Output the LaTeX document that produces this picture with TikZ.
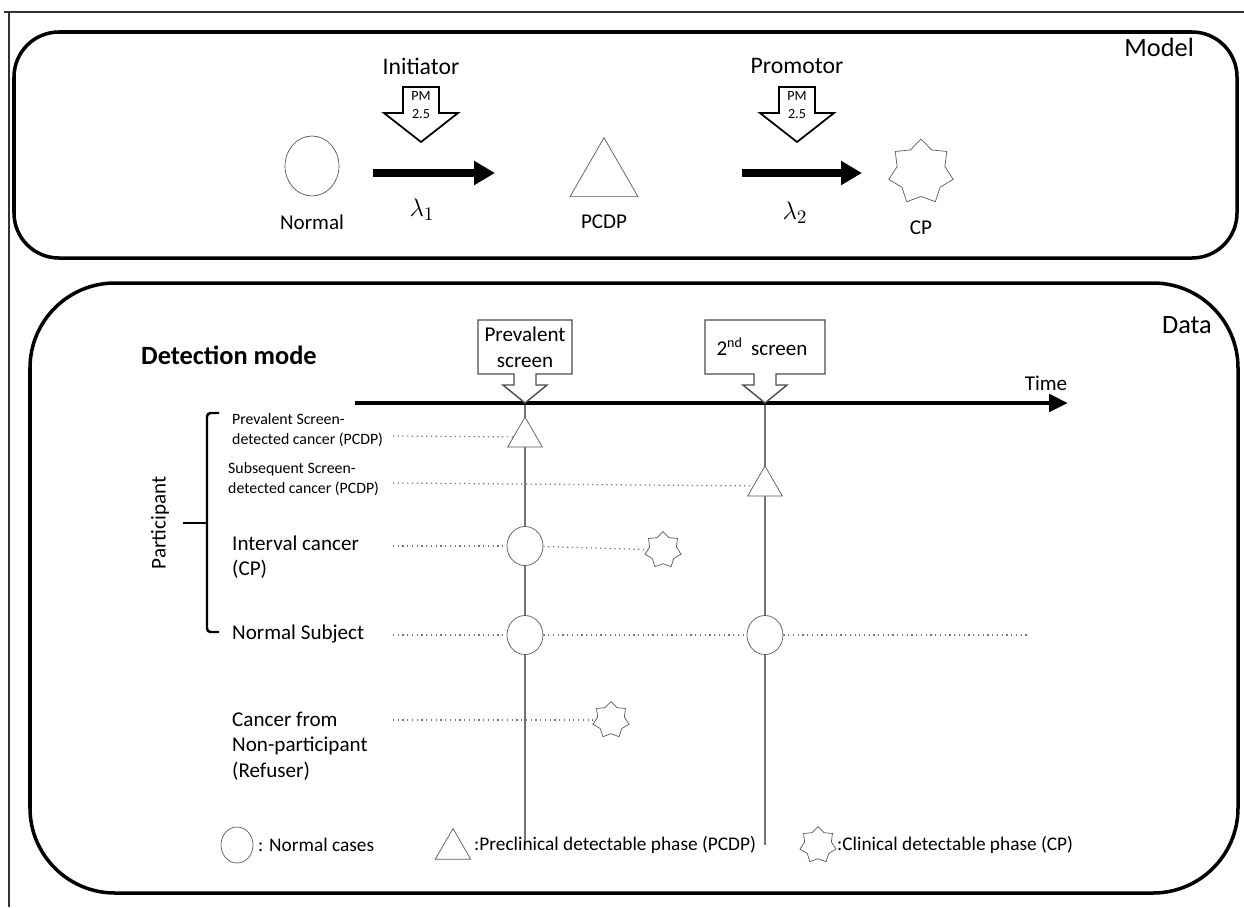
\documentclass[tikz,border=0pt]{standalone}
\usepackage{fontspec}
\setmainfont{Carlito}
\usepackage{tikz}
\usetikzlibrary{arrows.meta}
\usetikzlibrary{shapes,positioning,calc}

\tikzset{
	panel/.style={draw, line width=2pt, rounded corners=#1},
	normc/.style={draw=black!65, fill=white, ellipse, inner sep=0pt},
	pcdp/.style={draw=black!65, fill=white, regular polygon, regular polygon sides=3, inner sep=0pt},
	cpstar/.style={draw=black!65, fill=white, star, star points=7, star point ratio=1.35, inner sep=0pt},
	dotln/.style={draw=black!55, dotted, line width=0.7pt},
	vline/.style={draw=black!55, line width=0.8pt},
	fat/.style={line width=4pt, -{Triangle[length=0.42cm,width=0.46cm]}},
	lbl/.style={anchor=west, align=left},
	smalllbl/.style={anchor=west, align=left, font=\fontsize{9}{11.5}\selectfont},
	pmdrop/.pic={
		\draw[line width=1pt, fill=white] (-18,0) -- (18,0) -- (18,26) -- (37,26) -- (0,55) -- (-37,26) -- (-18,26) -- cycle;
		\node[font=\fontsize{8}{10.5}\selectfont, align=center] (-pm) at (0,18) {PM\\2.5};
	},
	scall/.pic={
		\draw[draw=black!70, line width=0.8pt, fill=white] (-#1,-29) -- (-11,-29) -- (-11,-18) -- (-22,-18) -- (0,0) -- (22,-18) -- (11,-18) -- (11,-29) -- (#1,-29) -- (#1,-83) -- (-#1,-83) -- cycle;
	},
}

\begin{document}
\begin{tikzpicture}[x=0.02cm, y=-0.02cm, every node/.style={font=\fontsize{12}{14.5}\selectfont}]
	\useasboundingbox (0,0) rectangle (1244,907);
	% frame
	\draw[line width=0.8pt, black!80] (4,12) -- (1244,12);
	\draw[line width=0.8pt, black!80] (9,12) -- (9,907);

	% ---- model ----
	\draw[panel=0.9cm] (14,32) rectangle (1237,258);
	\node[anchor=east, font=\fontsize{15}{17}\selectfont] (modeltxt) at (1200,47) {Model};

	\node[normc, minimum width=1.08cm, minimum height=1.2cm] (normal) at (312,166) {};
	\node (normaltxt) at (312,222) {Normal};
	\node[pcdp, minimum size=1.57cm] (pcdpm) at (604,177) {};
	\node (pcdptxt) at (604,222) {PCDP};
	\node[cpstar, minimum size=1.32cm] (cpm) at (921,172) {};
	\node (cptxt) at (921,228) {CP};

	\coordinate (a1s) at (373,173);
	\coordinate (a1e) at (495,173);
	\coordinate (a2s) at (742,173);
	\coordinate (a2e) at (862,173);
	\draw[fat] (a1s) -- (a1e);
	\draw[fat] (a2s) -- (a2e);
	\node[font=\fontsize{15}{17}\selectfont] (lam1) at (422,210) {$\lambda_1$};
	\node[font=\fontsize{15}{17}\selectfont] (lam2) at (795,213) {$\lambda_2$};

	\pic (ini) at (421,87) {pmdrop};
	\node[font=\fontsize{13.5}{16}\selectfont] (initxt) at (421,66) {Initiator};
	\pic (pro) at (797,87) {pmdrop};
	\node[font=\fontsize{13.5}{16}\selectfont] (protxt) at (797,66) {Promotor};

	% ---- data ----
	\draw[panel=1.7cm] (30,283) rectangle (1238,893);
	\node[anchor=east, font=\fontsize{15}{17}\selectfont] (datatxt) at (1218,325) {Data};
	\node[anchor=west, font=\bfseries\fontsize{15}{18}\selectfont] (detmode) at (135,355) {Detection mode};

	\coordinate (s1) at (525,403);
	\coordinate (s1b) at (525,845);
	\coordinate (s2) at (765,403);
	\coordinate (s2b) at (765,845);
	\draw[vline] (s1) -- (s1b);
	\draw[vline] (s2) -- (s2b);

	\coordinate (t0) at (355,403);
	\coordinate (t1) at (1068,403);
	\draw[line width=2.8pt, -{Triangle[length=0.38cm,width=0.34cm]}] (t0) -- (t1);
	\node (timetxt) at (1046,383) {Time};

	\pic (c1) at (s1) {scall=47};
	\pic (c2) at (s2) {scall=60};
	\node[align=center, font=\fontsize{12}{15}\selectfont] (prevtxt) at (525,347) {Prevalent\\screen};
	\node[font=\fontsize{12}{15}\selectfont] (sectxt) at (762,347) {2\textsuperscript{nd}\, screen};

	% rows
	\coordinate (r1) at (393,436);
	\coordinate (r2) at (393,483);
	\coordinate (r3) at (393,546);
	\coordinate (r4) at (393,635);
	\coordinate (r4e) at (1030,635);
	\coordinate (r5) at (393,720);

	\node[pcdp, minimum size=0.8cm] (tri1) at (525,437) {};
	\node[pcdp, minimum size=0.8cm] (tri2) at (765,486) {};
	\node[normc, minimum width=0.72cm, minimum height=0.78cm] (ic1) at (525,546) {};
	\node[cpstar, minimum size=0.74cm] (icstar) at (663,550) {};
	\node[normc, minimum width=0.72cm, minimum height=0.78cm] (ns1) at (525,635) {};
	\node[normc, minimum width=0.72cm, minimum height=0.78cm] (ns2) at (765,635) {};
	\node[cpstar, minimum size=0.74cm] (rfstar) at (611,720) {};

	\draw[dotln] (r1) -- (tri1);
	\draw[dotln] (r2) -- (tri2);
	\draw[dotln] (r3) -- (ic1);
	\draw[dotln] (ic1) -- (icstar);
	\draw[dotln] (r4) -- (ns1);
	\draw[dotln] (ns1) -- (ns2);
	\draw[dotln] (ns2) -- (r4e);
	\draw[dotln] (r5) -- (rfstar);

	\node[smalllbl] (l1) at (226,430) {Prevalent Screen-\\detected cancer (PCDP)};
	\node[smalllbl] (l2) at (222,479) {Subsequent Screen-\\detected cancer (PCDP)};
	\node[lbl] (l3) at (226,557) {Interval cancer\\(CP)};
	\node[lbl] (l4) at (226,634) {Normal Subject};
	\node[lbl] (l5) at (226,746) {Cancer from\\Non-participant\\(Refuser)};

	% participant brace
	\draw[line width=1.4pt, rounded corners=2pt] (219,413) -- (207,413) -- (207,632) -- (219,632);
	\draw[line width=1.4pt] (207,523) -- (183,523);
	\node[rotate=90] (partxt) at (160,523) {Participant};

	% legend
	\node[normc, minimum width=0.64cm, minimum height=0.72cm] (lgc) at (237,845) {};
	\node[anchor=west, font=\fontsize{11}{13}\selectfont] (lgctxt) at (252,845) {: Normal cases};
	\node[pcdp, minimum size=0.82cm] (lgt) at (453,849) {};
	\node[anchor=west, font=\fontsize{11}{13}\selectfont] (lgttxt) at (468,845) {:Preclinical detectable phase (PCDP)};
	\node[cpstar, minimum size=0.74cm] (lgs) at (818,845) {};
	\node[anchor=west, font=\fontsize{11}{13}\selectfont] (lgstxt) at (831,845) {:Clinical detectable phase (CP)};
\end{tikzpicture}
\end{document}
